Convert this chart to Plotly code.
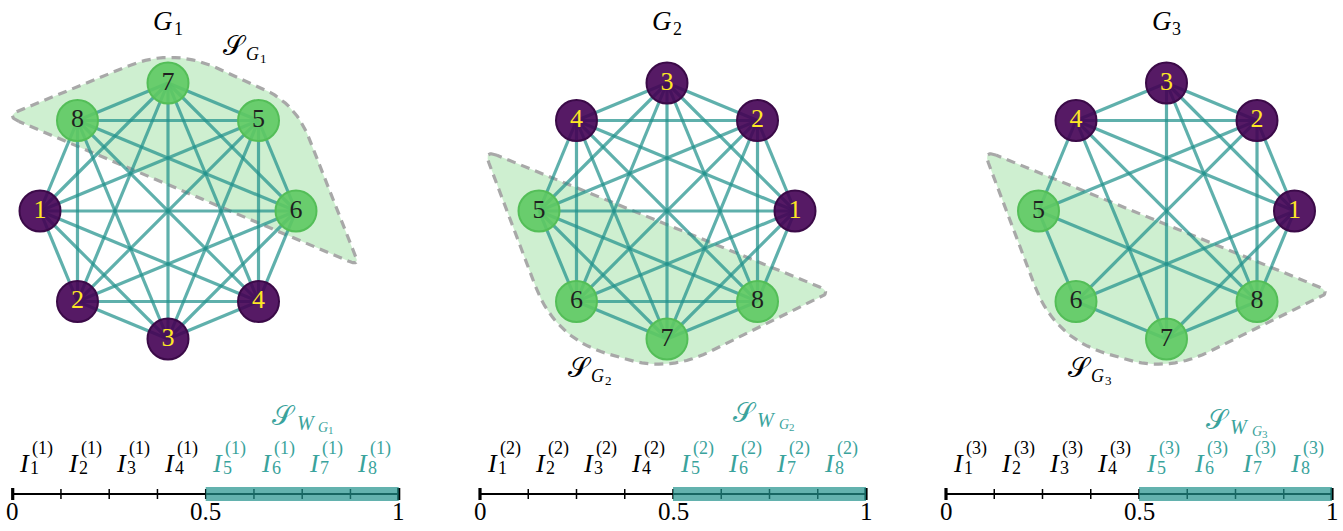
import numpy as np
import plotly.graph_objects as go

# ---------------- data ----------------
graph_ids = [1, 2, 3]

# vertex label sitting in each octagon slot; slot k lies at angle 45°*k (0° = east, counter-clockwise)
slots_g1 = [6, 5, 7, 8, 1, 2, 3, 4]
slots_g2 = [1, 2, 3, 4, 5, 6, 7, 8]
slots_g3 = [1, 2, 3, 4, 5, 6, 7, 8]

# vertices in the selected subset S_G
selected_vertices = [5, 6, 7, 8]

edges_g1 = [(1, 2), (1, 3), (1, 4), (1, 5), (1, 6), (1, 7), (1, 8),
            (2, 3), (2, 4), (2, 5), (2, 6), (2, 7), (2, 8),
            (3, 4), (3, 5), (3, 6), (3, 7), (3, 8),
            (4, 5), (4, 6), (4, 7), (4, 8),
            (5, 6), (5, 7), (5, 8),
            (6, 7), (6, 8),
            (7, 8)]
edges_g2 = [(1, 2), (1, 3), (1, 4), (1, 5), (1, 6), (1, 7), (1, 8),
            (2, 3), (2, 4), (2, 5), (2, 6), (2, 7), (2, 8),
            (3, 4), (3, 5), (3, 6), (3, 7), (3, 8),
            (4, 5), (4, 6), (4, 7), (4, 8),
            (5, 6), (5, 7), (5, 8),
            (6, 7), (6, 8),
            (7, 8)]
edges_g3 = [(1, 2), (1, 3), (1, 4), (1, 6), (1, 7), (1, 8),
            (2, 3), (2, 4), (2, 5), (2, 6), (2, 8),
            (3, 4), (3, 7), (3, 8),
            (4, 5), (4, 7), (4, 8),
            (5, 6), (5, 8),
            (6, 7),
            (7, 8)]

# unit interval split into 8 equal pieces I_1..I_8
interval_edges = [0.0, 0.125, 0.25, 0.375, 0.5, 0.625, 0.75, 0.875, 1.0]
interval_index = [1, 2, 3, 4, 5, 6, 7, 8]
tick_values = [0.0, 0.5, 1.0]
tick_labels = ["0", "0.5", "1"]
highlight_span = [0.5, 1.0]

# ---------------- layout constants (pixel space) ----------------
W, H = 1343, 531
centers = [(168.0, 211.0), (667.0, 211.0), (1166.5, 211.0)]
RADIUS = 128.0
NODE_SIZE = 41
line_x0 = [12.7, 480.0, 946.0]
LINE_LEN = 386.0
LINE_Y = 494.0
# anchor of each S_W label: x offset from the 0.75 mark, y position
sw_label_dx = [-18, -25, -18]
sw_label_y = [416, 413, 420]
# anchor of each S_G label
sg_label_pos = [(235, 46), (580, 368), (1080, 368)]

SERIF = "Liberation Serif"
PURPLE = "rgba(68,1,84,0.9)"
PURPLE_EDGE = "#3b0a48"
GREEN = "rgba(94,201,98,0.9)"
GREEN_EDGE = "rgba(84,190,88,1)"
YELLOW = "#fde725"
EDGE_COLOR = "rgba(33,145,140,0.72)"
TEAL_TEXT = "#3aa39c"
HULL_FILL = "rgba(94,201,98,0.3)"
HULL_LINE = "#a8a8a8"

# hull outlines around the selected subset, as polygon corners relative to the graph centre
# (x, y-down) with a rounding radius per corner
hull_g1 = [(-162, -95), (4, -163), (127, -108), (192, 55)]
hull_g23 = [(-183, -61), (-112, 127), (1, 161), (165, 81)]
hull_round_g1 = [14, 48, 36, 12]
hull_round_g23 = [14, 55, 45, 14]


def rounded_polygon(pts, radii, n=16):
    pts = np.asarray(pts, dtype=float)
    k = len(pts)
    out = []
    for i in range(k):
        p_prev, p, p_next = pts[i - 1], pts[i], pts[(i + 1) % k]
        d1 = p_prev - p
        d2 = p_next - p
        l1, l2 = np.linalg.norm(d1), np.linalg.norm(d2)
        r = min(radii[i], l1 / 2, l2 / 2)
        a = p + d1 / l1 * r
        b = p + d2 / l2 * r
        t = np.linspace(0, 1, n)[:, None]
        out.append((1 - t) ** 2 * a + 2 * (1 - t) * t * p + t ** 2 * b)
    out = np.vstack(out)
    return np.vstack([out, out[:1]])


def vertex_positions(slots, center):
    cx, cy = center
    pos = {}
    for k, lab in enumerate(slots):
        ang = np.deg2rad(45 * k)
        pos[lab] = (cx + RADIUS * np.cos(ang), cy - RADIUS * np.sin(ang))
    return pos


def text(fig, x, y, s, size, color="black"):
    fig.add_annotation(x=x, y=y, text=s, showarrow=False,
                       font=dict(family=SERIF, size=size, color=color))


fig = go.Figure()

graphs = [
    (slots_g1, edges_g1, hull_g1, hull_round_g1),
    (slots_g2, edges_g2, hull_g23, hull_round_g23),
    (slots_g3, edges_g3, hull_g23, hull_round_g23),
]

for gi, (slots, edges, hull, hull_r) in enumerate(graphs):
    cx, cy = centers[gi]
    # selected-subset hull
    poly = rounded_polygon([(cx + dx, cy + dy) for dx, dy in hull], hull_r)
    fig.add_trace(go.Scatter(
        x=poly[:, 0], y=poly[:, 1], mode="lines", fill="toself",
        fillcolor=HULL_FILL, line=dict(color=HULL_LINE, width=3.2, dash="9px,6px"),
        hoverinfo="skip", showlegend=False))

    pos = vertex_positions(slots, centers[gi])
    for u, v in edges:
        fig.add_trace(go.Scatter(
            x=[pos[u][0], pos[v][0]], y=[pos[u][1], pos[v][1]], mode="lines",
            line=dict(color=EDGE_COLOR, width=3.2), hoverinfo="skip", showlegend=False))

    labels = sorted(pos.keys())
    is_sel = [lab in selected_vertices for lab in labels]
    fig.add_trace(go.Scatter(
        x=[pos[l][0] for l in labels], y=[pos[l][1] for l in labels],
        mode="markers+text", text=[str(l) for l in labels],
        textposition="middle center",
        textfont=dict(family=SERIF, size=26,
                      color=["#1f1f1f" if s else YELLOW for s in is_sel]),
        marker=dict(size=NODE_SIZE,
                    color=[GREEN if s else PURPLE for s in is_sel],
                    line=dict(color=[GREEN_EDGE if s else PURPLE_EDGE for s in is_sel], width=2)),
        hoverinfo="skip", showlegend=False))

    # graph title G_g
    text(fig, cx - 5, 21, "<i>G</i>", 27)
    text(fig, cx + 10, 29, str(graph_ids[gi]), 18)

    # subset label S_{G_g}
    sx, sy = sg_label_pos[gi]
    text(fig, sx, sy, "𝒮", 27)
    text(fig, sx + 17, sy + 8, "<i>G</i>", 18)
    text(fig, sx + 28, sy + 12, str(graph_ids[gi]), 13)

# number lines
for gi in range(3):
    x0 = line_x0[gi]
    to_px = lambda v: x0 + v * LINE_LEN
    fig.add_trace(go.Scatter(x=[to_px(0), to_px(1)], y=[LINE_Y, LINE_Y], mode="lines",
                             line=dict(color="black", width=2.2),
                             hoverinfo="skip", showlegend=False))
    for v in interval_edges:
        end = v in (0.0, 1.0)
        h = 6 if end else 5
        fig.add_trace(go.Scatter(x=[to_px(v), to_px(v)], y=[LINE_Y - h, LINE_Y + h],
                                 mode="lines", line=dict(color="black", width=3.2 if end else 1.5),
                                 hoverinfo="skip", showlegend=False))
    # highlighted sub-interval S_W
    a, b = to_px(highlight_span[0]), to_px(highlight_span[1])
    fig.add_trace(go.Scatter(x=[a, b, b, a, a], y=[LINE_Y - 7, LINE_Y - 7, LINE_Y + 7, LINE_Y + 7, LINE_Y - 7],
                             mode="lines", fill="toself", fillcolor="rgba(33,145,140,0.7)",
                             line=dict(width=0, color="rgba(0,0,0,0)"),
                             hoverinfo="skip", showlegend=False))
    for v, t in zip(tick_values, tick_labels):
        text(fig, to_px(v), 511, t, 25)
    # interval labels I_k^(g)
    for k, lo, hi in zip(interval_index, interval_edges[:-1], interval_edges[1:]):
        xc = to_px((lo + hi) / 2)
        col = TEAL_TEXT if lo >= highlight_span[0] else "black"
        text(fig, xc - 12, 463, "<i>I</i>", 26, col)
        text(fig, xc + 6, 448, f"({graph_ids[gi]})", 18, col)
        text(fig, xc - 2, 468, str(k), 18, col)
    # S_{W_{G_g}} label
    sx = to_px(0.75) + sw_label_dx[gi]
    sy = sw_label_y[gi]
    text(fig, sx, sy, "𝒮", 27, TEAL_TEXT)
    text(fig, sx + 22, sy + 7, "<i>W</i>", 20, TEAL_TEXT)
    text(fig, sx + 39, sy + 11, "<i>G</i>", 14, TEAL_TEXT)
    text(fig, sx + 47, sy + 14, str(graph_ids[gi]), 11, TEAL_TEXT)

fig.update_layout(
    width=W, height=H, autosize=False,
    margin=dict(l=0, r=0, t=0, b=0),
    paper_bgcolor="white", plot_bgcolor="white",
    xaxis=dict(range=[0, W], visible=False, fixedrange=True),
    yaxis=dict(range=[H, 0], visible=False, fixedrange=True),
    showlegend=False,
)

fig.write_html("out.html")
